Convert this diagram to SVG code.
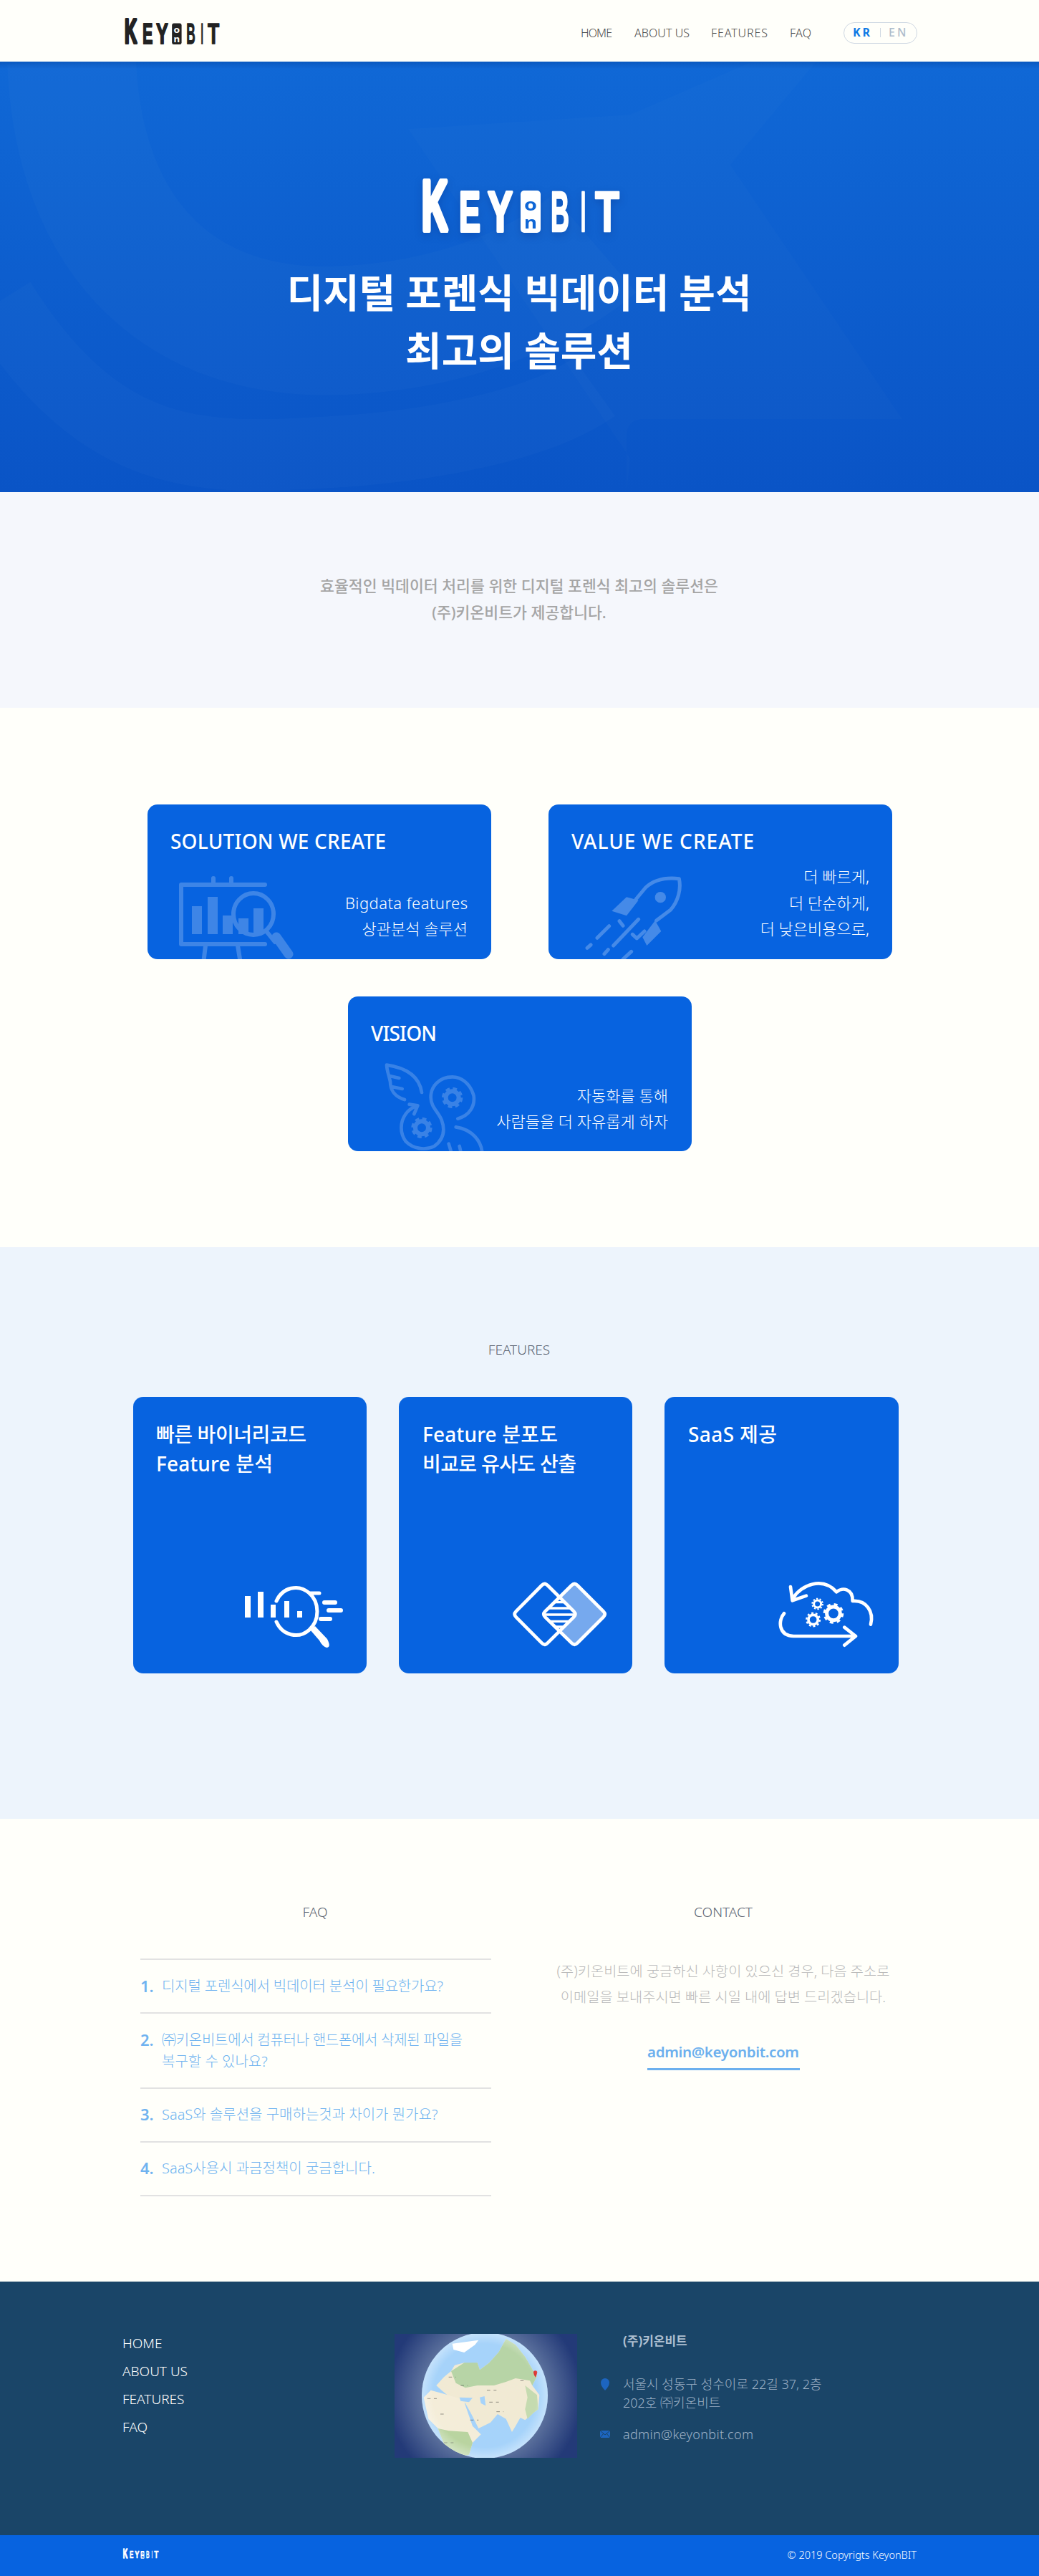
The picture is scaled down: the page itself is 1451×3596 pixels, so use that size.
<svg xmlns="http://www.w3.org/2000/svg" xmlns:xlink="http://www.w3.org/1999/xlink" width="1451" height="3596" viewBox="0 0 1451 3596">
<style>
text{font-family:"Noto Sans","Noto Sans CJK KR",sans-serif}
.lg{font-family:"Liberation Sans",sans-serif;font-weight:700;stroke:currentColor;stroke-linejoin:round}
.card{fill:#0763e0}
.nav{font-size:16px;fill:#4a4a4a;font-weight:300}
.ttl{font-size:28px;fill:#fff;font-weight:500}
.bd{font-size:22px;fill:#fff;font-weight:300;text-anchor:end}
.fh{font-size:28px;fill:#fff;font-weight:500}
.sec{font-size:19px;fill:#5a6270;font-weight:300;text-anchor:middle}
.q{font-size:20px;fill:#6fb3f0;font-weight:300}
.n{font-size:22px;fill:#6fb3f0;font-weight:600}
.c{font-size:19.800px;fill:#b9b9b9;font-weight:300;text-anchor:middle}
.fn{font-size:19px;fill:#fff;font-weight:300}
.fa{font-size:18px;fill:#9fb2c6;font-weight:300}
.ic{fill:none;stroke:#fff;stroke-linecap:round;stroke-linejoin:round}
.wm{fill:none;stroke:#fff;stroke-linecap:round;stroke-linejoin:round}
</style>
<defs>
<linearGradient id="hero" x1="0" y1="0" x2="0" y2="1"><stop offset="0" stop-color="#1068d6"/><stop offset="1" stop-color="#0a54c6"/></linearGradient>
<linearGradient id="sh" x1="0" y1="0" x2="0" y2="1"><stop offset="0" stop-color="#003c96" stop-opacity=".35"/><stop offset="1" stop-color="#003c96" stop-opacity="0"/></linearGradient>
<radialGradient id="bgg" gradientUnits="userSpaceOnUse" cx="677" cy="3344" r="135"><stop offset=".62" stop-color="#5f749f"/><stop offset="1" stop-color="#233a78"/></radialGradient>
<radialGradient id="gl" gradientUnits="userSpaceOnUse" cx="677" cy="3344" r="88"><stop offset=".82" stop-color="#fff" stop-opacity="0"/><stop offset="1" stop-color="#fff" stop-opacity=".35"/></radialGradient>
<clipPath id="c1"><rect x="206" y="1123" width="480" height="216" rx="14"/></clipPath>
<clipPath id="c2"><rect x="766" y="1123" width="480" height="216" rx="14"/></clipPath>
<clipPath id="c3"><rect x="486" y="1391" width="480" height="216" rx="14"/></clipPath>
<clipPath id="gc"><circle cx="677" cy="3344" r="88"/></clipPath>
<clipPath id="gi"><rect x="551" y="3258" width="255" height="173"/></clipPath>
<g id="logo">
<text class="lg" x="4" y="72" font-size="98" textLength="36" lengthAdjust="spacingAndGlyphs" stroke-width="8">K</text>
<text class="lg" x="56" y="74" font-size="80" textLength="30" lengthAdjust="spacingAndGlyphs" stroke-width="4">E</text>
<text class="lg" x="96" y="74" font-size="80" textLength="35" lengthAdjust="spacingAndGlyphs" stroke-width="4">Y</text>
<rect x="142" y="17" width="28" height="59" rx="5" fill="currentColor"/>
<text x="147" y="45" font-size="24" font-weight="700" textLength="18" lengthAdjust="spacingAndGlyphs" style="fill:var(--bg)">o</text>
<text x="147" y="70" font-size="24" font-weight="700" textLength="18" lengthAdjust="spacingAndGlyphs" style="fill:var(--bg)">n</text>
<text class="lg" x="184" y="74" font-size="80" textLength="26" lengthAdjust="spacingAndGlyphs" stroke-width="2.500">B</text>
<text class="lg" x="226" y="74" font-size="80" textLength="7" lengthAdjust="spacingAndGlyphs" stroke-width="2.500">I</text>
<text class="lg" x="246" y="74" font-size="80" textLength="34" lengthAdjust="spacingAndGlyphs" stroke-width="2.500">T</text>
</g>
</defs>

<rect width="1451" height="3596" fill="#fffffa"/>

<g id="header">
<use xlink:href="#logo" href="#logo" transform="translate(172 24) scale(.48 .5)" style="color:#222;fill:#222;--bg:#fffffa"/>
<text class="nav" x="811" y="52" textLength="44">HOME</text>
<text class="nav" x="886" y="52" textLength="77">ABOUT US</text>
<text class="nav" x="993" y="52" textLength="79">FEATURES</text>
<text class="nav" x="1103" y="52" textLength="30">FAQ</text>
<rect x="1178.500" y="31.500" width="102" height="29" rx="14.500" fill="none" stroke="#cfd8e3"/>
<text x="1191" y="51" font-size="16" font-weight="700" letter-spacing="3" fill="#0f7ae5">KR</text>
<rect x="1229" y="39" width="1" height="13" fill="#cfd8e3"/>
<text x="1241" y="51" font-size="16" font-weight="500" letter-spacing="3" fill="#aebccb">EN</text>
</g>

<g id="hero-section">
<rect y="86" width="1451" height="601" fill="url(#hero)"/>
<g fill="none" stroke="#fff" stroke-opacity=".018">
<path d="M100 86C110 330 250 480 500 460C640 450 760 400 830 340" stroke-width="180"/>
<path d="M0 420C150 660 300 640 480 630C620 620 760 590 830 540" stroke-width="100"/>
</g>
<path d="M875 687V610Q875 585 900 585H1260L1020 230L1140 86H1050L880 160L570 180L880 640Z" fill="#fff" fill-opacity=".014"/>
<rect y="86" width="1451" height="10" fill="url(#sh)"/>
<use xlink:href="#logo" href="#logo" transform="translate(585 249)" style="color:#fff;fill:#fff;--bg:#0f66d6;filter:drop-shadow(0 4px 6px rgba(0,20,90,.2))"/>
<text x="725" y="429" font-size="55" font-weight="700" fill="#fff" text-anchor="middle" textLength="649">디지털 포렌식 빅데이터 분석</text>
<text x="725" y="510" font-size="55" font-weight="700" fill="#fff" text-anchor="middle">최고의 솔루션</text>
</g>

<g id="intro">
<rect y="687" width="1451" height="301" fill="#f5f7fc"/>
<text x="725" y="826" font-size="21.600" font-weight="500" fill="#a5a5a5" text-anchor="middle">효율적인 빅데이터 처리를 위한 디지털 포렌식 최고의 솔루션은</text>
<text x="725" y="863" font-size="21.600" font-weight="500" fill="#a5a5a5" text-anchor="middle">(주)키온비트가 제공합니다.</text>
</g>

<g id="card-solution">
<rect class="card" x="206" y="1123" width="480" height="216" rx="14"/>
<g clip-path="url(#c1)"><g class="wm" opacity=".22" stroke-width="6">
<path d="M370 1235H253V1318H370M298 1233V1226M323 1233V1226M287 1320L284 1345M332 1320L336 1345"/>
<g fill="#fff" stroke="none"><rect x="268" y="1265" width="14" height="39"/><rect x="290" y="1252" width="14" height="52"/><rect x="311" y="1278" width="14" height="26"/><rect x="333" y="1282" width="14" height="22"/><rect x="354" y="1268" width="14" height="36"/></g>
<ellipse cx="354" cy="1276" rx="28" ry="29"/>
<path d="M372 1300L384 1315"/><path d="M386 1308L403 1332" stroke-width="13"/>
</g></g>
<text class="ttl" x="238" y="1185" textLength="301">SOLUTION WE CREATE</text>
<text class="bd" x="653" y="1269" textLength="171">Bigdata features</text>
<text class="bd" x="653" y="1305">상관분석 솔루션</text>
</g>

<g id="card-value">
<rect class="card" x="766" y="1123" width="480" height="216" rx="14"/>
<g clip-path="url(#c2)"><g class="wm" opacity=".25" transform="translate(820 1215) scale(.3333)" stroke-width="15">
<path d="M205 120L245 72C285 35 340 30 385 35C395 80 380 130 350 165L290 210"/>
<circle cx="307" cy="113" r="23" fill="#fff" stroke="none"/>
<path d="M165 112L215 125L165 190L103 170Z" fill="#fff" stroke="none"/>
<path d="M285 210L310 255L250 315L232 280Z" fill="#fff" stroke="none"/>
<path d="M150 232L135 212M190 268L208 285L240 255M215 205L110 315M92 233L42 283M88 332L72 350M15 312L0 325M185 340L150 372"/>
</g></g>
<text class="ttl" x="798" y="1185" textLength="255">VALUE WE CREATE</text>
<text class="bd" x="1214" y="1232">더 빠르게,</text>
<text class="bd" x="1214" y="1269">더 단순하게,</text>
<text class="bd" x="1214" y="1305">더 낮은비용으로,</text>
</g>

<g id="card-vision">
<rect class="card" x="486" y="1391" width="480" height="216" rx="14"/>
<g clip-path="url(#c3)"><g class="wm" opacity=".2" transform="translate(520 1480) scale(.3333)" stroke-width="14">
<path d="M60 20C130 30 195 60 207 135M60 20C60 40 70 65 75 90C75 130 100 155 135 165M70 65L112 75M85 112L125 120"/>
<path d="M358 245C410 230 430 190 425 150C410 95 370 70 335 70C280 70 245 110 245 155C245 195 275 215 290 250C305 290 300 330 260 360C220 380 170 370 140 340C115 305 115 260 140 225C150 210 165 200 185 190M155 185L190 190L175 225"/>
<path d="M350 280C420 290 455 340 460 385M320 350L332 390M365 360L372 390"/>
<circle cx="335" cy="157" r="27" stroke-width="18"/><circle cx="335" cy="157" r="38" stroke-width="12" stroke-dasharray="17 13" stroke-linecap="butt"/>
<circle cx="207" cy="283" r="27" stroke-width="18"/><circle cx="207" cy="283" r="38" stroke-width="12" stroke-dasharray="17 13" stroke-linecap="butt"/>
</g></g>
<text class="ttl" x="518" y="1453" textLength="92">VISION</text>
<text class="bd" x="933" y="1538">자동화를 통해</text>
<text class="bd" x="933" y="1574">사람들을 더 자유롭게 하자</text>
</g>

<g id="features">
<rect y="1741" width="1451" height="798" fill="#edf4fc"/>
<text class="sec" x="725" y="1891">FEATURES</text>
</g>

<g id="feature-binary">
<rect class="card" x="186" y="1950" width="326" height="386" rx="14"/>
<text class="fh" x="218" y="2013" textLength="210">빠른 바이너리코드</text>
<text class="fh" x="218" y="2054" textLength="163">Feature 분석</text>
<g fill="#fff"><rect x="342" y="2228" width="8" height="30"/><rect x="360" y="2222" width="8" height="36"/><rect x="378" y="2240" width="7" height="18"/><rect x="397" y="2235" width="7" height="23"/><rect x="415" y="2249" width="7" height="9"/></g>
<g class="ic" stroke-width="5"><path d="M386 2235A30 33 0 1 1 386 2264M432 2224H446"/></g>
<path d="M433 2275L440 2270L457 2288Q463 2300 456 2300Q450 2298 446 2290Z" fill="#fff"/>
<g class="ic" stroke-width="6"><path d="M453 2237H468M459 2248H476M448 2260H461"/></g>
</g>

<g id="feature-dist">
<rect class="card" x="557" y="1950" width="326" height="386" rx="14"/>
<text class="fh" x="590" y="2013" textLength="189">Feature 분포도</text>
<text class="fh" x="590" y="2054" textLength="215">비교로 유사도 산출</text>
<g transform="translate(700 2195) scale(.3333)">
<path d="M245 100L295 55Q307 45 319 55L425 160Q440 175 425 190L319 295Q307 305 295 295L245 250L316 175Z" fill="#fff" fill-opacity=".45"/>
<g class="ic" stroke-width="14">
<path d="M170 54Q182 42 194 54L304 163Q316 175 304 187L194 296Q182 308 170 296L62 187Q50 175 62 163Z"/>
<path d="M295 54Q307 42 319 54L428 163Q440 175 428 187L319 296Q307 308 295 296L184 187Q172 175 184 163Z"/>
</g>
<g stroke="#fff" stroke-width="10"><path d="M222 125H264M197 150H290M180 177H306M197 205H290M222 228H264"/></g>
</g>
</g>

<g id="feature-saas">
<rect class="card" x="928" y="1950" width="327" height="386" rx="14"/>
<text class="fh" x="961" y="2013" textLength="124">SaaS 제공</text>
<g transform="translate(700 2195) scale(.3333)">
<g class="ic" stroke-width="14">
<path d="M1212 60L1220 118L1278 98M1225 105C1255 55 1345 15 1405 82C1430 60 1475 70 1472 120C1530 115 1562 165 1548 218"/>
<path d="M1185 172C1160 200 1160 265 1225 267H1485M1438 230L1485 267L1438 305"/>
<circle cx="1392" cy="172" r="28" stroke-width="15"/>
<circle cx="1325" cy="132" r="15" stroke-width="9"/>
<circle cx="1307" cy="198" r="20" stroke-width="11"/>
</g>
<g fill="none" stroke="#fff" stroke-dasharray="8 8">
<circle cx="1392" cy="172" r="38" stroke-width="10" stroke-dasharray="15 15"/>
<circle cx="1325" cy="132" r="22" stroke-width="6" stroke-dasharray="7 7"/>
<circle cx="1307" cy="198" r="28" stroke-width="7" stroke-dasharray="9 8.600"/>
</g>
</g>
</g>

<g id="faq">
<text class="sec" x="440" y="2676">FAQ</text>
<text class="sec" x="1010" y="2676">CONTACT</text>
<g fill="#e2e2e2"><rect x="196" y="2734" width="490" height="2"/><rect x="196" y="2809" width="490" height="2"/><rect x="196" y="2914" width="490" height="2"/><rect x="196" y="2989" width="490" height="2"/><rect x="196" y="3064" width="490" height="2"/></g>
<text class="n" x="196" y="2781">1.</text><text class="q" x="226" y="2780" textLength="393">디지털 포렌식에서 빅데이터 분석이 필요한가요?</text>
<text class="n" x="196" y="2856">2.</text><text class="q" x="226" y="2855" textLength="420">㈜키온비트에서 컴퓨터나 핸드폰에서 삭제된 파일을</text>
<text class="q" x="226" y="2885">복구할 수 있나요?</text>
<text class="n" x="196" y="2960">3.</text><text class="q" x="226" y="2959">SaaS와 솔루션을 구매하는것과 차이가 뭔가요?</text>
<text class="n" x="196" y="3035">4.</text><text class="q" x="226" y="3034">SaaS사용시 과금정책이 궁금합니다.</text>
</g>

<g id="contact">
<text class="c" x="1010" y="2759">(주)키온비트에 궁금하신 사항이 있으신 경우, 다음 주소로</text>
<text class="c" x="1010" y="2795">이메일을 보내주시면 빠른 시일 내에 답변 드리겠습니다.</text>
<text x="1010" y="2872" font-size="20.500" font-weight="600" fill="#6cb0ee" text-anchor="middle" textLength="212">admin@keyonbit.com</text>
<rect x="904" y="2887" width="213" height="3" fill="#6cb0ee"/>
</g>

<g id="footer">
<rect y="3185" width="1451" height="354" fill="#1a4568"/>
<text class="fn" x="171" y="3278">HOME</text>
<text class="fn" x="171" y="3317">ABOUT US</text>
<text class="fn" x="171" y="3356">FEATURES</text>
<text class="fn" x="171" y="3395">FAQ</text>
<g id="globe" clip-path="url(#gi)">
<rect x="551" y="3258" width="255" height="173" fill="url(#bgg)"/>
<circle cx="677" cy="3344" r="88" fill="#a6d3fa"/>
<g clip-path="url(#gc)"><g transform="translate(520 3230) scale(.3333)">
<path d="M268 300L300 265L330 240L345 215L385 205L415 215L440 205L450 235L490 205L530 160L560 105L600 130L640 180L672 235L690 262L670 300L700 340L695 400L675 415L640 445L620 435L600 470L585 495L560 440L525 420L495 455L445 480L415 420L390 375L360 365L320 345L290 320Z" fill="#f1ead4"/>
<path d="M330 240L385 205L440 205L450 235L490 205L530 160L560 105L600 130L640 180L672 235L690 262L670 300L660 280L600 270L560 285L510 300L440 300L390 310L350 290Z" fill="#b7d4a6"/>
<path d="M640 300L690 340L695 400L675 415L650 440L640 400L650 350Z" fill="#c5dbb0"/>
<path d="M215 350L245 320L300 335L365 355L385 370L420 470L455 505L420 540L405 590L340 600L300 545L275 480L235 440Z" fill="#f4edd9"/>
<path d="M275 480L320 490L400 495L420 540L405 590L340 600L300 545Z" fill="#b9d4a0"/>
<path d="M335 125L445 110L430 130L385 162L340 150Z" fill="#fff"/>
<path d="M450 350L470 345L475 385L455 375ZM365 350L420 352L405 370L370 365Z" fill="#a6d3fa"/>
<path d="M675 246A8 8 0 0 1 691 246Q690 254 683 266Q676 254 675 246Z" fill="#d8221f"/>
<g stroke="#333" stroke-opacity=".5" stroke-width="3" stroke-dasharray="14 14"><path d="M230 355H270M320 265H350M370 300H400M480 320H520M490 370H530M520 410H550M410 445H445M285 420H310M620 280H640M300 540H340"/></g>
</g></g>
<circle cx="677" cy="3344" r="88" fill="url(#gl)"/>
</g>
<text x="870" y="3274" font-size="17" font-weight="700" fill="#aebfd0">(주)키온비트</text>
<path d="M845 3320A6 6 0 0 1 851 3326Q851 3331 845 3337Q839 3331 839 3326A6 6 0 0 1 845 3320Z" fill="#1d65c0"/>
<text class="fa" x="870" y="3335">서울시 성동구 성수이로 22길 37, 2층</text>
<text class="fa" x="870" y="3361">202호 ㈜키온비트</text>
<rect x="838" y="3393" width="14" height="10" fill="#1d65c0"/>
<path d="M838 3393L845 3399L852 3393M838 3403L843 3397M852 3403L847 3397" fill="none" stroke="#1a4568"/>
<text class="fa" x="870" y="3405" textLength="182">admin@keyonbit.com</text>
</g>

<g id="bottom">
<rect y="3539" width="1451" height="57" fill="#0763e0"/>
<use xlink:href="#logo" href="#logo" transform="translate(171 3558) scale(.18)" style="color:#fff;fill:#fff;--bg:#0763e0"/>
<text x="1280" y="3572" font-size="14.500" font-weight="300" fill="#fff" text-anchor="end">© 2019 Copyrigts KeyonBIT</text>
</g>
</svg>
